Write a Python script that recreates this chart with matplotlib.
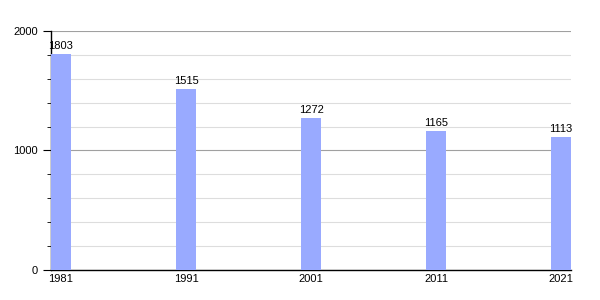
import matplotlib.pyplot as plt
from matplotlib.ticker import MultipleLocator

plt.rcParams["font.family"] = ["Liberation Sans", "DejaVu Sans"]

# census years and population
years = [1981, 1991, 2001, 2011, 2021]
population = [1803, 1515, 1272, 1165, 1113]

fig = plt.figure(figsize=(6, 3), dpi=100)
ax = fig.add_axes([0.085, 0.1, 0.867, 0.797])

bar_w = 1.6
ax.bar(years, population, width=bar_w, color="#99aaff", zorder=3)
for x, v in zip(years, population):
    ax.text(x, v + 25, str(v), ha="center", va="bottom", fontsize=8, zorder=4)

ax.set_xlim(years[0] - bar_w / 2, years[-1] + bar_w / 2)
ax.set_ylim(0, 2000)
ax.set_xticks(years)
ax.yaxis.set_major_locator(MultipleLocator(1000))
ax.yaxis.set_minor_locator(MultipleLocator(200))

ax.grid(axis="y", which="major", color="#a0a0a0", linewidth=0.8, zorder=1)
ax.grid(axis="y", which="minor", color="#dddddd", linewidth=0.8, zorder=1)

ax.tick_params(axis="x", length=0, labelsize=8, pad=3)
ax.tick_params(axis="y", which="major", length=6, labelsize=8)
ax.tick_params(axis="y", which="minor", length=3)

for s in ["top", "right"]:
    ax.spines[s].set_visible(False)
ax.spines["left"].set_linewidth(1)
ax.spines["bottom"].set_linewidth(1)

fig.savefig("out.png", dpi=100)
